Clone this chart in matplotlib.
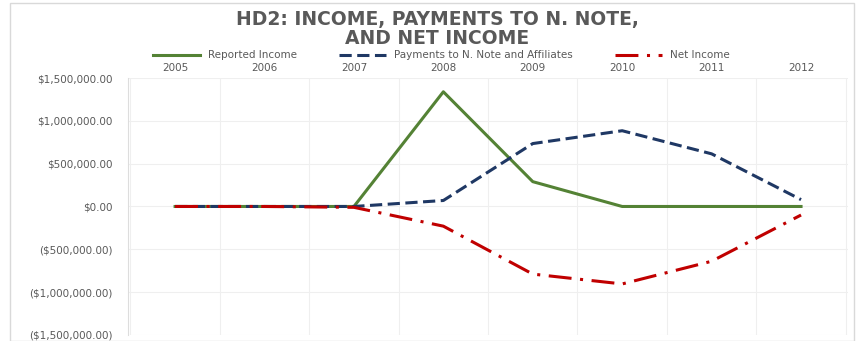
import numpy as np
import matplotlib.pyplot as plt
from matplotlib.patches import Rectangle
from matplotlib.ticker import FuncFormatter

years = ['2005', '2006', '2007', '2008', '2009', '2010', '2011', '2012']
reported_income = [0, 0, 0, 1340000, 290000, 0, 0, 0]
payments_n_note = [0, 0, 0, 70000, 735000, 885000, 615000, 80000]
net_income = [0, 0, -10000, -230000, -790000, -905000, -640000, -100000]

grey = '#595959'

fig = plt.figure(figsize=(8.57, 3.41), dpi=100)
ax = fig.add_axes([0.149, 0.018, 0.841, 0.753])

x = np.arange(len(years))
ax.plot(x, reported_income, color='#548235', lw=2.2, label='Reported Income')
ax.plot(x, payments_n_note, color='#1f3864', lw=2.2, dashes=(4, 1.8),
        label='Payments to N. Note and Affiliates')
ax.plot(x, net_income, color='#c00000', lw=2.2, dashes=(7.5, 2.8, 1, 2.8),
        label='Net Income')

ax.set_xlim(-0.53, 7.53)
ax.set_ylim(-1500000, 1500000)
ax.set_yticks(np.arange(-1500000, 1500001, 500000))


def money(v, pos):
    if v < 0:
        return '(${:,.2f})'.format(-v)
    return '${:,.2f}'.format(v)


ax.yaxis.set_major_formatter(FuncFormatter(money))
ax.xaxis.tick_top()
ax.set_xticks(x)
ax.set_xticklabels(years)
ax.set_xticks(np.arange(-0.5, 8, 1), minor=True)
ax.tick_params(which='both', length=0, labelsize=7.5, colors=grey)
ax.tick_params(axis='x', pad=4)
ax.tick_params(axis='y', pad=11)

ax.grid(axis='y', which='major', color='#efefef', lw=0.8)
ax.grid(axis='x', which='minor', color='#efefef', lw=0.8)
ax.set_axisbelow(True)
for side in ['top', 'right', 'bottom']:
    ax.spines[side].set_visible(False)
ax.spines['left'].set_color('#dddddd')

fig.text(0.51, 0.915, 'HD2: INCOME, PAYMENTS TO N. NOTE,\nAND NET INCOME',
         ha='center', va='center', fontsize=13.5, fontweight='bold',
         color=grey, linespacing=1.05)

fig.legend(loc='center', bbox_to_anchor=(0.515, 0.838), ncol=3, frameon=False,
           fontsize=7.5, labelcolor=grey, handlelength=4.5, columnspacing=4,
           handletextpad=0.8)

fig.add_artist(Rectangle((0.012, 0.0), 0.985, 0.99, transform=fig.transFigure,
                         fill=False, edgecolor='#d9d9d9', lw=1))

fig.savefig('out.png', dpi=100)
